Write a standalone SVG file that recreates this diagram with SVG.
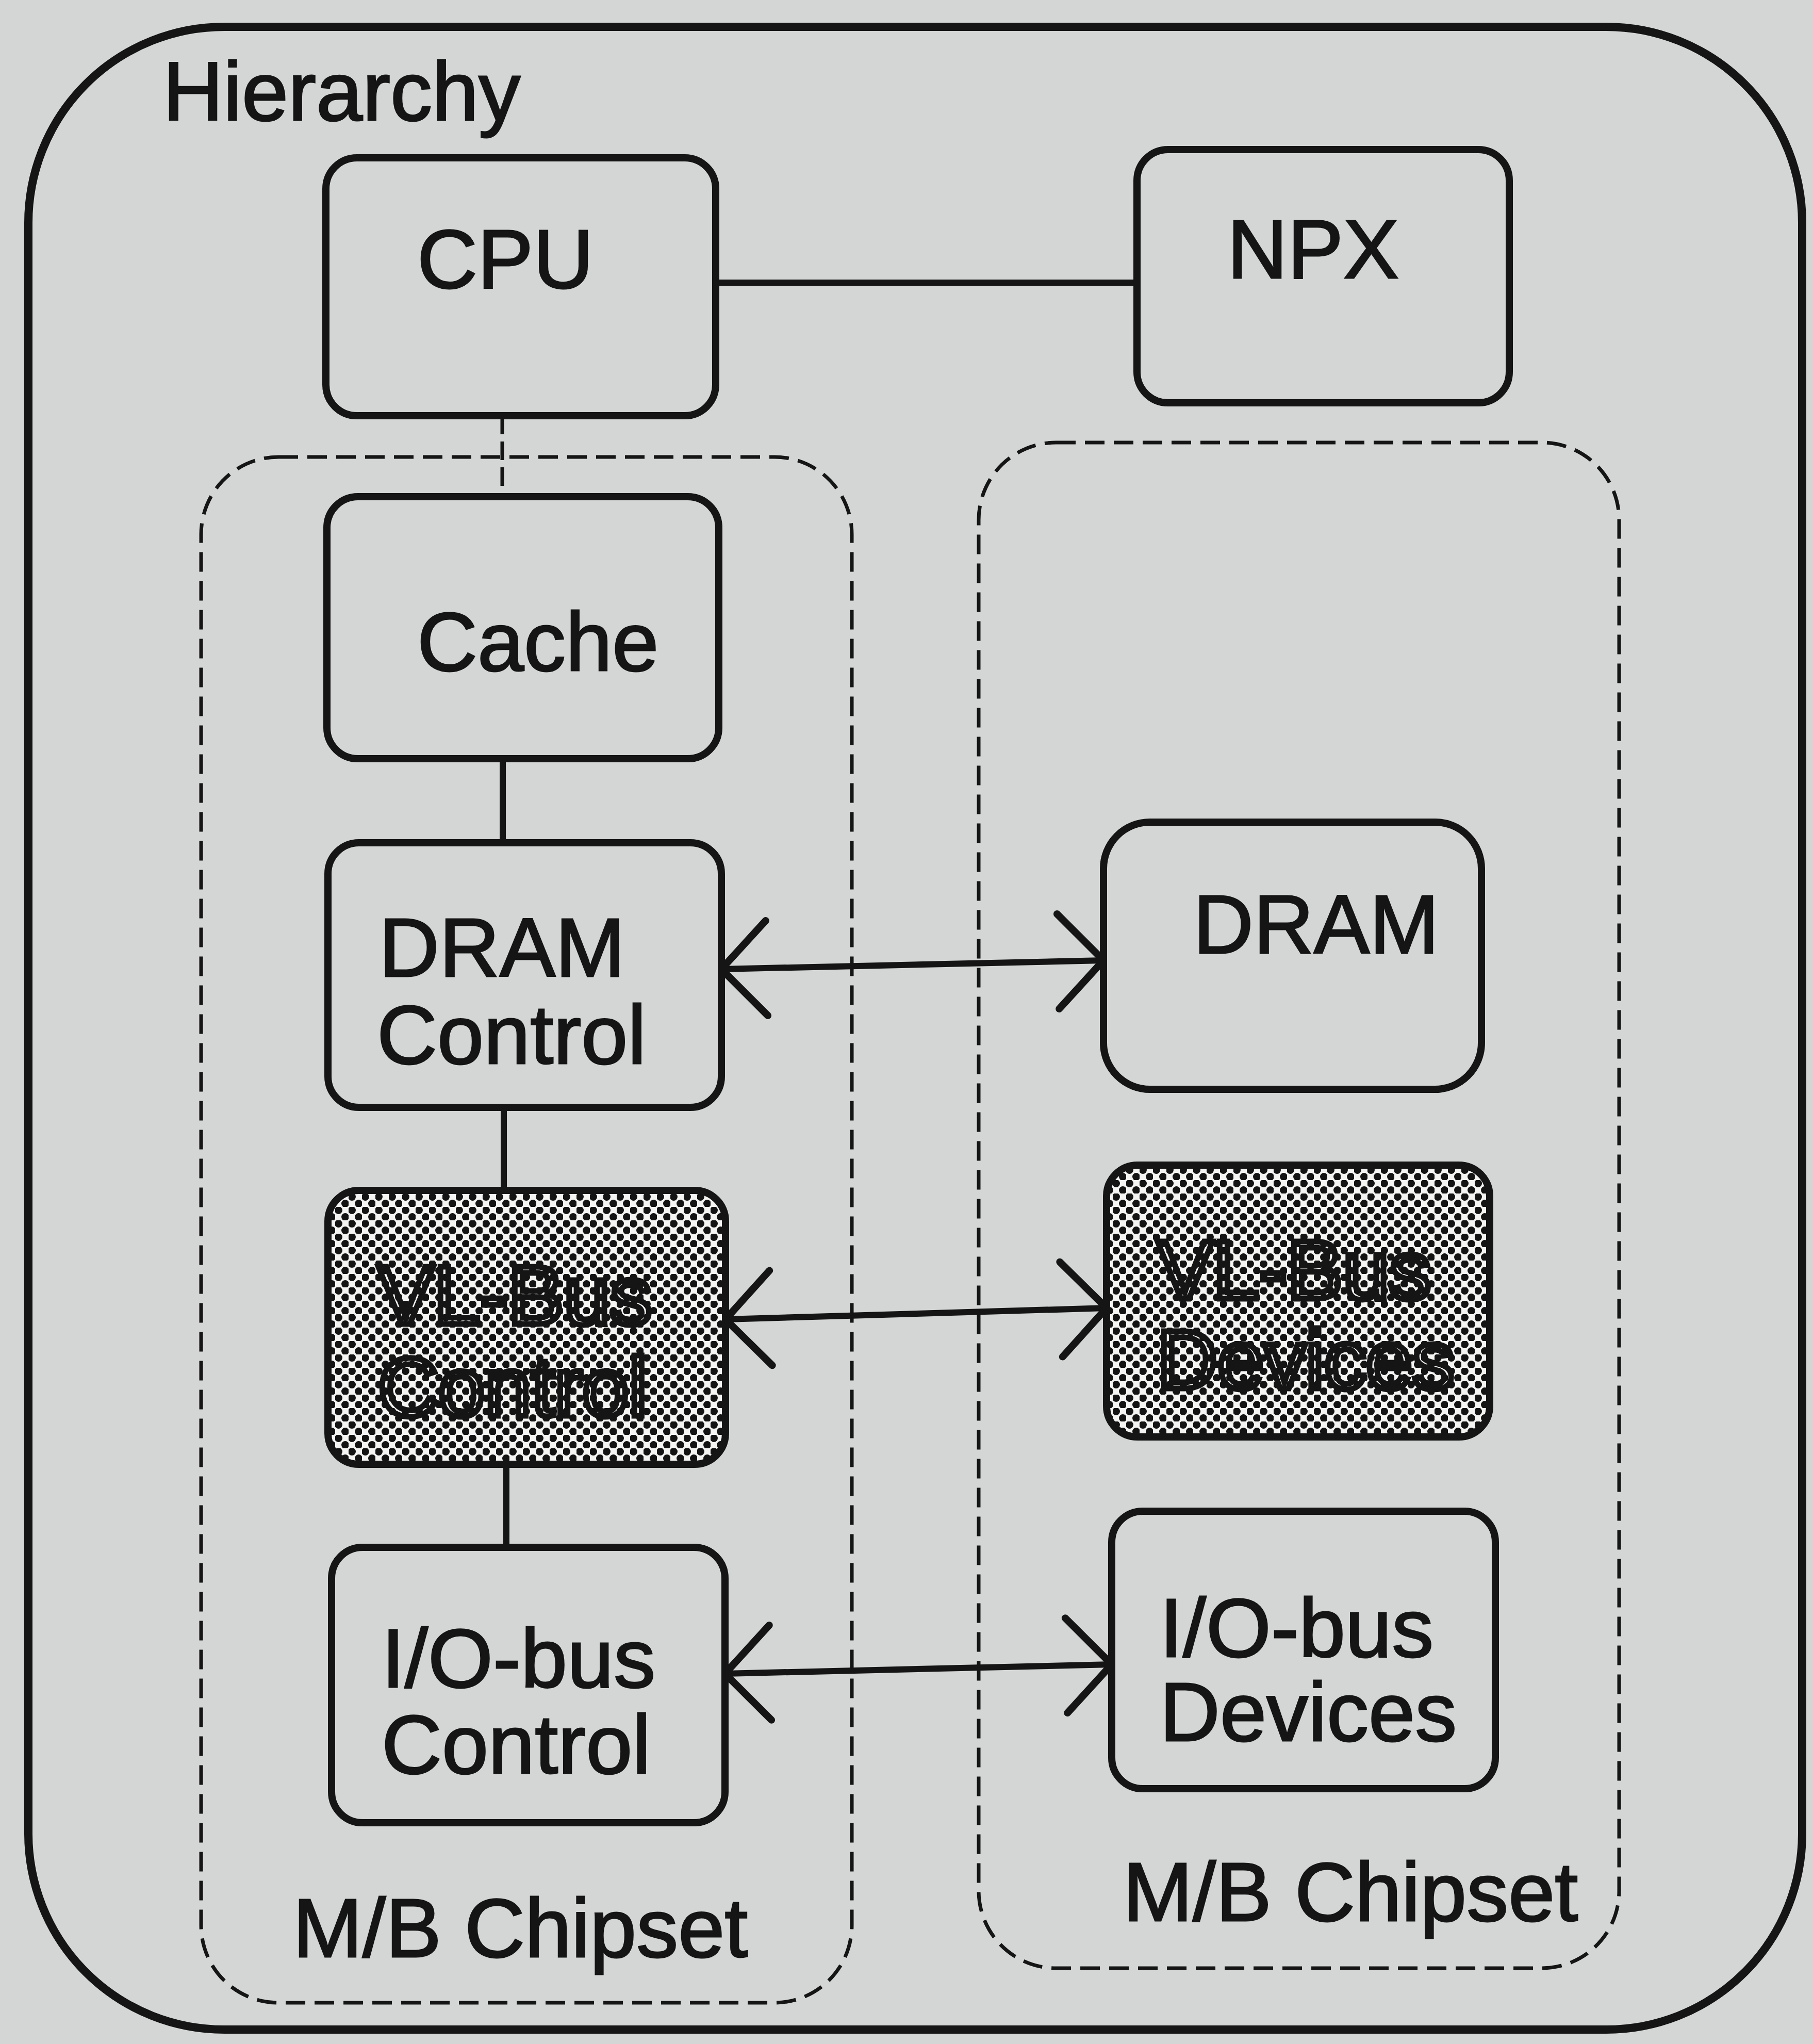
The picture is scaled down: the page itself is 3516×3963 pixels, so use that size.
<svg xmlns="http://www.w3.org/2000/svg" width="3516" height="3963" viewBox="0 0 3516 3963">
<defs>
<pattern id="stip" patternUnits="userSpaceOnUse" width="26" height="26">
<rect width="26" height="26" fill="#f4f4f2"/>
<circle cx="6.5" cy="6.5" r="7.5" fill="#141414"/>
<circle cx="19.5" cy="19.5" r="7.5" fill="#141414"/>
</pattern>
<marker id="chev" markerUnits="userSpaceOnUse" viewBox="-110 -110 130 220" markerWidth="130" markerHeight="220" refX="0" refY="0" orient="auto-start-reverse">
<path d="M -88 -92 L 0 0 L -88 92" fill="none" stroke="#151515" stroke-width="14" stroke-linecap="round" stroke-linejoin="round"/>
</marker>
<style>
.box{fill:none;stroke:#151515;stroke-width:14}
.shade{fill:url(#stip);stroke:#151515;stroke-width:14}
.grp{fill:none;stroke:#151515;stroke-width:7;stroke-dasharray:38 18}
.lbl{font-family:"Liberation Sans",Arial,sans-serif;font-size:162px;fill:#151515;stroke:#151515;stroke-width:3}
.slbl{font-family:"Liberation Sans",Arial,sans-serif;font-size:162px;fill:url(#stip);stroke:#151515;stroke-width:11}
.line{stroke:#151515;stroke-width:12;fill:none}
.dline{stroke:#151515;stroke-width:7;fill:none;stroke-dasharray:36 14}
</style>
</defs>
<rect width="3516" height="3963" fill="#d4d6d6"/>
<g id="hierarchy">
<rect x="55" y="52" width="3440" height="3883" rx="380" ry="380" fill="none" stroke="#151515" stroke-width="16"/>
<text class="lbl" x="316" y="233" font-size="160">Hierarchy</text>
</g>
<g id="chipset-left">
<rect class="grp" x="390" y="886" width="1262" height="2997" rx="150"/>
<text class="lbl" x="568" y="3794" font-size="166">M/B Chipset</text>
</g>
<g id="chipset-right">
<rect class="grp" x="1898" y="858" width="1242" height="2958" rx="150"/>
<text class="lbl" x="2178" y="3724">M/B Chipset</text>
</g>
<g id="connectors">
<line class="line" x1="1388" y1="548" x2="2205" y2="548"/>
<line class="dline" x1="974" y1="806" x2="974" y2="963"/>
<line class="line" x1="975" y1="1471" x2="975" y2="1634"/>
<line class="line" x1="977" y1="2147" x2="977" y2="2308"/>
<line class="line" x1="982" y1="2839" x2="982" y2="3000"/>
<line class="line" x1="1399" y1="1879" x2="2140" y2="1862" marker-start="url(#chev)" marker-end="url(#chev)"/>
<line class="line" x1="1407" y1="2558" x2="2146" y2="2536" marker-start="url(#chev)" marker-end="url(#chev)"/>
<line class="line" x1="1406" y1="3245" x2="2156" y2="3227" marker-start="url(#chev)" marker-end="url(#chev)"/>
</g>
<g id="cpu">
<rect class="box" x="632" y="306" width="756" height="500" rx="60"/>
<text class="lbl" x="809" y="558">CPU</text>
</g>
<g id="npx">
<rect class="box" x="2205" y="290" width="722" height="491" rx="60"/>
<text class="lbl" x="2380" y="539">NPX</text>
</g>
<g id="cache">
<rect class="box" x="634" y="963" width="760" height="508" rx="60"/>
<text class="lbl" x="809" y="1300">Cache</text>
</g>
<g id="dram-control">
<rect class="box" x="636" y="1634" width="763" height="513" rx="60"/>
<text class="lbl" x="735" y="1893">DRAM</text>
<text class="lbl" x="731" y="2062">Control</text>
</g>
<g id="vlbus-control">
<rect class="shade" x="636" y="2308" width="771" height="531" rx="60"/>
<text class="slbl" x="733" y="2567">VL-Bus</text>
<text class="slbl" x="733" y="2745">Control</text>
</g>
<g id="iobus-control">
<rect class="box" x="643" y="3000" width="763" height="534" rx="60"/>
<text class="lbl" x="740" y="3271">I/O-bus</text>
<text class="lbl" x="740" y="3438">Control</text>
</g>
<g id="dram">
<rect class="box" x="2140" y="1594" width="733" height="518" rx="90"/>
<text class="lbl" x="2314" y="1848">DRAM</text>
</g>
<g id="vlbus-devices">
<rect class="shade" x="2146" y="2259" width="743" height="527" rx="60"/>
<text class="slbl" x="2244" y="2518">VL-Bus</text>
<text class="slbl" x="2244" y="2692">Devices</text>
</g>
<g id="iobus-devices">
<rect class="box" x="2156" y="2930" width="744" height="538" rx="60"/>
<text class="lbl" x="2249" y="3212">I/O-bus</text>
<text class="lbl" x="2249" y="3375">Devices</text>
</g>
</svg>
